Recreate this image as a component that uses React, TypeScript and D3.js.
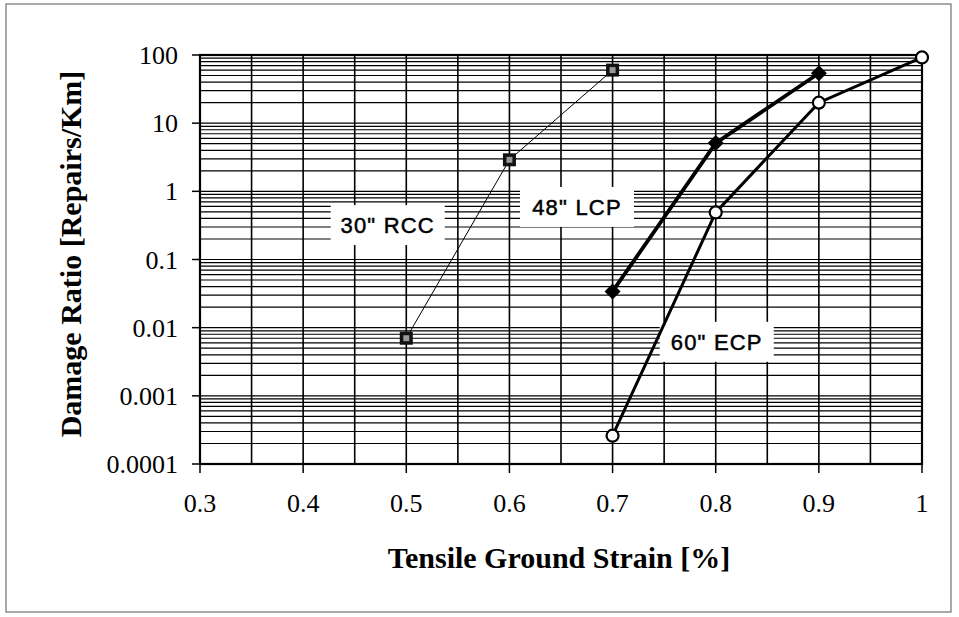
import React from "react";
import * as d3 from "d3";

const xTicks = [0.3, 0.4, 0.5, 0.6, 0.7, 0.8, 0.9, 1];
const yTicks = [0.0001, 0.001, 0.01, 0.1, 1, 10, 100];
const yTickLabels = ["0.0001", "0.001", "0.01", "0.1", "1", "10", "100"];

const rccX = [0.5, 0.6, 0.7];
const rccY = [0.007, 2.9, 60];
const lcpX = [0.7, 0.8, 0.9];
const lcpY = [0.034, 5.1, 54];
const ecpX = [0.7, 0.8, 0.9, 1.0];
const ecpY = [0.00026, 0.49, 20, 92];

const seriesLabels = [
  { text: "30\" RCC", x: 0.482, y: 0.32 },
  { text: "48\" LCP", x: 0.6655, y: 0.59 },
  { text: "60\" ECP", x: 0.801, y: 0.0062 },
];

const W = 959;
const H = 617;
const M = { left: 200, right: 922, top: 55, bottom: 464 };

export default function App() {
  const x = d3.scaleLinear().domain([0.3, 1]).range([M.left, M.right]);
  const y = d3.scaleLog().domain([0.0001, 100]).range([M.bottom, M.top]);

  const minorY: number[] = [];
  for (let e = -4; e < 2; e++) {
    for (let m = 1; m <= 9; m++) minorY.push(m * Math.pow(10, e));
  }
  minorY.push(100);
  const vGrid = d3.range(0.3, 1.0001, 0.05);

  const line = d3
    .line<[number, number]>()
    .x((d) => x(d[0]))
    .y((d) => y(d[1]));

  const rcc = rccX.map((v, i) => [v, rccY[i]] as [number, number]);
  const lcp = lcpX.map((v, i) => [v, lcpY[i]] as [number, number]);
  const ecp = ecpX.map((v, i) => [v, ecpY[i]] as [number, number]);

  const serif = "'Liberation Serif', 'Times New Roman', serif";
  const sans = "'Liberation Sans', Arial, sans-serif";

  return (
    <svg width={W} height={H} style={{ position: "absolute", left: 0, top: 0, background: "#fff" }}>
      <rect x={0} y={0} width={W} height={H} fill="#fff" />
      <rect x={6} y={4} width={945} height={608} fill="none" stroke="#555" strokeWidth={1} />

      {/* horizontal gridlines */}
      {minorY.map((v, i) => (
        <line key={"h" + i} x1={M.left} x2={M.right} y1={y(v)} y2={y(v)} stroke="#000" strokeWidth={1.2} />
      ))}
      {/* vertical gridlines */}
      {vGrid.map((v, i) => (
        <line key={"v" + i} x1={x(v)} x2={x(v)} y1={M.top} y2={M.bottom} stroke="#000" strokeWidth={1.6} />
      ))}
      {/* frame */}
      <rect x={M.left} y={M.top} width={M.right - M.left} height={M.bottom - M.top} fill="none" stroke="#000" strokeWidth={2.2} />

      {/* y ticks */}
      {yTicks.map((v, i) => (
        <g key={"yt" + i}>
          <line x1={M.left - 8} x2={M.left} y1={y(v)} y2={y(v)} stroke="#000" strokeWidth={1.5} />
          <text x={178} y={y(v)} dy="0.35em" textAnchor="end" fontFamily={serif} fontSize={26}>
            {yTickLabels[i]}
          </text>
        </g>
      ))}
      {/* x ticks */}
      {xTicks.map((v, i) => (
        <g key={"xt" + i}>
          <line x1={x(v)} x2={x(v)} y1={M.bottom} y2={M.bottom + 9} stroke="#000" strokeWidth={1.5} />
          <text x={x(v)} y={512} textAnchor="middle" fontFamily={serif} fontSize={26}>
            {d3.format("")(v)}
          </text>
        </g>
      ))}

      {/* axis titles */}
      <text
        transform={`translate(81,254) rotate(-90)`}
        textAnchor="middle"
        fontFamily={serif}
        fontWeight="bold"
        fontSize={30}
      >
        Damage Ratio [Repairs/Km]
      </text>
      <text x={559} y={568} textAnchor="middle" fontFamily={serif} fontWeight="bold" fontSize={30}>
        Tensile Ground Strain [%]
      </text>

      {/* series labels */}
      {seriesLabels.map((l, i) => {
        const cx = x(l.x);
        const cy = y(l.y);
        return (
          <g key={"lab" + i}>
            <rect x={cx - 57} y={cy - 20} width={114} height={40} fill="#fff" />
            <text
              x={cx}
              y={cy}
              dy="0.36em"
              textAnchor="middle"
              fontFamily={sans}
              fontSize={22}
              letterSpacing={1.2}
              stroke="#000"
              strokeWidth={0.5}
            >
              {l.text}
            </text>
          </g>
        );
      })}

      {/* RCC series */}
      <path d={line(rcc) || ""} fill="none" stroke="#000" strokeWidth={1} />
      {rcc.map((d, i) => (
        <g key={"r" + i}>
          <rect x={x(d[0]) - 6.5} y={y(d[1]) - 6.5} width={13} height={13} fill="#111" />
          <rect x={x(d[0]) - 3} y={y(d[1]) - 3} width={6} height={6} fill="#999" />
        </g>
      ))}

      {/* LCP series */}
      <path d={line(lcp) || ""} fill="none" stroke="#000" strokeWidth={3.8} />
      {lcp.map((d, i) => (
        <path
          key={"l" + i}
          d="M0,-8L8,0L0,8L-8,0Z"
          transform={`translate(${x(d[0])},${y(d[1])})`}
          fill="#000"
        />
      ))}

      {/* ECP series */}
      <path d={line(ecp) || ""} fill="none" stroke="#000" strokeWidth={3} />
      {ecp.map((d, i) => (
        <circle key={"e" + i} cx={x(d[0])} cy={y(d[1])} r={6} fill="#fff" stroke="#000" strokeWidth={2.2} />
      ))}
    </svg>
  );
}
